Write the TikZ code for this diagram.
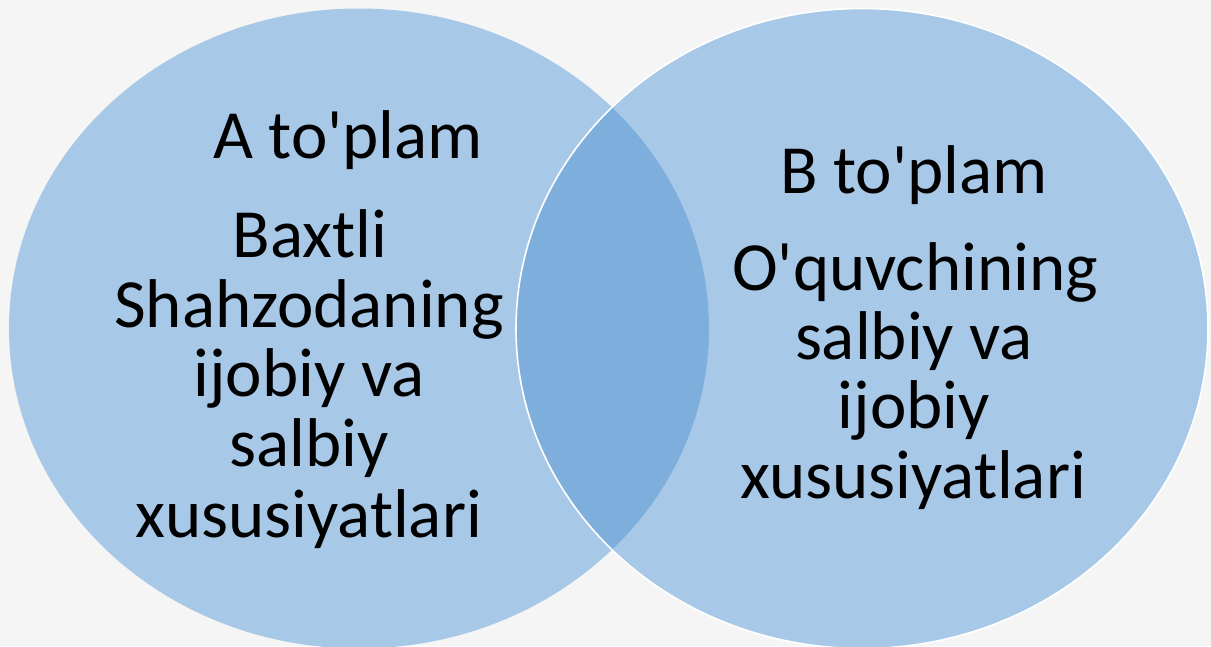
\documentclass[tikz,border=0pt]{standalone}
\usepackage{fontspec}
\setmainfont{Carlito}[Ligatures=TeXOff]
\definecolor{bgcol}{HTML}{F5F5F5}
\definecolor{setfill}{HTML}{A8C8E8}
\definecolor{lensfill}{HTML}{7EAEDC}
\tikzset{
  setlabel/.style={anchor=base, inner sep=0pt, font=\fontsize{69}{70}\selectfont, text=black},
  setshape/.style={fill=setfill},
  setrim/.style={draw=white, line width=1.6pt}
}
\begin{document}
\begin{tikzpicture}[x=1pt,y=-1pt]
  % background and bounding box
  \fill[bgcol] (0,0) rectangle (1211,646);
  \useasboundingbox (0,0) rectangle (1211,646);
  % set centres
  \coordinate (ca) at (359,328.5);
  \coordinate (cb) at (862,328.5);
  % the two sets
  \fill[setshape] (ca) ellipse [x radius=350, y radius=320];
  \fill[setshape] (cb) ellipse [x radius=346, y radius=320];
  % intersection
  \begin{scope}
    \clip (ca) ellipse [x radius=350, y radius=320];
    \fill[lensfill] (cb) ellipse [x radius=346, y radius=320];
  \end{scope}
  % white rim of set B
  \draw[setrim] (cb) ellipse [x radius=346, y radius=320];
  % labels of set A
  \node[setlabel] (a0) at (348,158) {A to'plam};
  \node[setlabel] (a1) at (310,257) {Baxtli};
  \node[setlabel] (a2) at (309,327) {Shahzodaning};
  \node[setlabel] (a3) at (309,396) {ijobiy va};
  \node[setlabel] (a4) at (309,466) {salbiy};
  \node[setlabel] (a5) at (309,537) {xususiyatlari};
  % labels of set B
  \node[setlabel] (b0) at (914,193) {B to'plam};
  \node[setlabel] (b1) at (915,290) {O'quvchining};
  \node[setlabel] (b2) at (914,359) {salbiy va};
  \node[setlabel] (b3) at (914,428) {ijobiy};
  \node[setlabel] (b4) at (913,498) {xususiyatlari};
\end{tikzpicture}
\end{document}
